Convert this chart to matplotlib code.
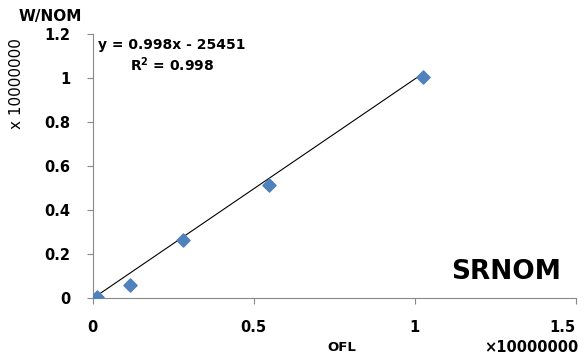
import matplotlib.pyplot as plt
import numpy as np

# data (units of 1e7)
ofl = np.array([0.012, 0.115, 0.28, 0.547, 1.025])
wnom = np.array([0.005, 0.06, 0.264, 0.514, 1.005])
slope, intercept = 0.998, -0.0025451
xticks = [0, 0.5, 1, 1.5]
yticks = [0, 0.2, 0.4, 0.6, 0.8, 1, 1.2]

plt.rcParams['font.family'] = 'DejaVu Sans'
plt.rcParams['font.weight'] = 'bold'

fig = plt.figure(figsize=(5.87, 3.62), dpi=100)
ax = fig.add_axes([0.158, 0.177, 0.823, 0.729])

xl = np.array([ofl.min(), ofl.max()])
ax.plot(xl, slope * xl + intercept, color='black', lw=0.8, zorder=2)
ax.scatter(ofl, wnom, marker='D', s=45, color='#4F81BD', zorder=3)

ax.set_xlim(0, 1.5)
ax.set_ylim(0, 1.2)
ax.set_xticks(xticks)
ax.set_xticklabels(['0', '0.5', '1', '1.5'])
ax.set_yticks(yticks)
ax.set_yticklabels(['0', '0.2', '0.4', '0.6', '0.8', '1', '1.2'])
# last x label sits against the right edge
ax.get_xticklabels()[-1].set_horizontalalignment('right')
ax.get_xticklabels()[-1].set_x(1.5)

for s in ['top', 'right']:
    ax.spines[s].set_visible(False)
for s in ['left', 'bottom']:
    ax.spines[s].set_color('#888888')
ax.tick_params(axis='both', colors='#888888', labelcolor='black', labelsize=10.5, length=4)
ax.tick_params(axis='x', pad=12)
ax.tick_params(axis='y', pad=12)

fig.text(0.086, 0.955, 'W/NOM', fontsize=11, ha='center', va='center')
fig.text(0.028, 0.77, 'x 10000000', fontsize=11, rotation=90, ha='center', va='center', fontweight='normal')
fig.text(0.582, 0.04, 'OFL', fontsize=9.5, ha='center', va='center')
fig.text(0.905, 0.04, '\u00d710000000', fontsize=10.5, ha='center', va='center')
fig.text(0.862, 0.248, 'SRNOM', fontsize=19, ha='center', va='center')
fig.text(0.293, 0.876, 'y = 0.998x - 25451', fontsize=10, ha='center', va='center')
fig.text(0.293, 0.822, 'R$^{2}$ = 0.998', fontsize=10, ha='center', va='center')

fig.savefig('out.png', dpi=100)
